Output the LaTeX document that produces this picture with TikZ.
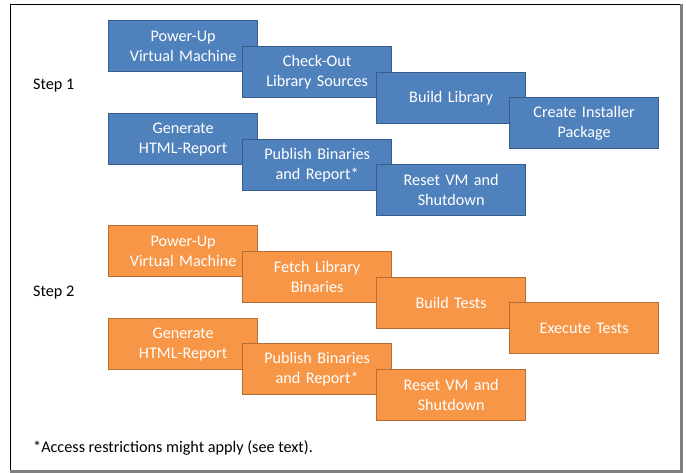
\documentclass[tikz,border=0pt]{standalone}
\usepackage{fontspec}
\setmainfont{Carlito}
\definecolor{stepblue}{HTML}{4F81BD}
\definecolor{stepblueline}{HTML}{385D8A}
\definecolor{steporange}{HTML}{F79646}
\definecolor{steporangeline}{HTML}{B66D31}
\definecolor{frameshade}{HTML}{7F7F7F}
\tikzset{
  task/.style={anchor=north west, minimum width=149pt, minimum height=51pt,
    text width=145pt, align=center, inner sep=0pt, text=white, line width=1.3pt,
    font=\fontsize{16.2}{20}\selectfont},
  bluetask/.style={task, fill=stepblue, draw=stepblueline},
  orangetask/.style={task, fill=steporange, draw=steporangeline},
  label/.style={anchor=west, inner sep=0pt, font=\fontsize{16.2}{20}\selectfont}
}
\begin{document}
\begin{tikzpicture}[x=1pt, y=-1pt]
\useasboundingbox (0,0) rectangle (686,473);
% outer frame with a shaded lower-right edge
\draw[black, line width=1pt] (680.5,470.5) -- (10.5,470.5) -- (10.5,4.5) -- (680.5,4.5);
\draw[frameshade, line width=2.5pt] (681.5,4) -- (681.5,471.5) -- (10,471.5);

\node[label] (step1) at (33,86) {Step 1};
\node[label] (step2) at (33,293) {Step 2};

% step 1: build
\node[bluetask] (b1) at (108,20)  {Power-Up\\Virtual Machine};
\node[bluetask] (b2) at (242,46)  {Check-Out\\Library Sources};
\node[bluetask] (b3) at (376,72)  {Build Library};
\node[bluetask] (b4) at (509,97)  {Create Installer\\Package};
\node[bluetask] (b5) at (108,113) {Generate\\HTML-Report};
\node[bluetask] (b6) at (242,139) {Publish Binaries\\and Report*};
\node[bluetask] (b7) at (376,164) {Reset VM and\\Shutdown};

% step 2: test
\node[orangetask] (o1) at (108,225) {Power-Up\\Virtual Machine};
\node[orangetask] (o2) at (242,251) {Fetch Library\\Binaries};
\node[orangetask] (o3) at (376,277) {Build Tests};
\node[orangetask] (o4) at (509,302) {Execute Tests};
\node[orangetask] (o5) at (108,318) {Generate\\HTML-Report};
\node[orangetask] (o6) at (242,343) {Publish Binaries\\and Report*};
\node[orangetask] (o7) at (376,369) {Reset VM and\\Shutdown};

\node[label] (note) at (33,448) {*Access restrictions might apply (see text).};
\end{tikzpicture}
\end{document}
